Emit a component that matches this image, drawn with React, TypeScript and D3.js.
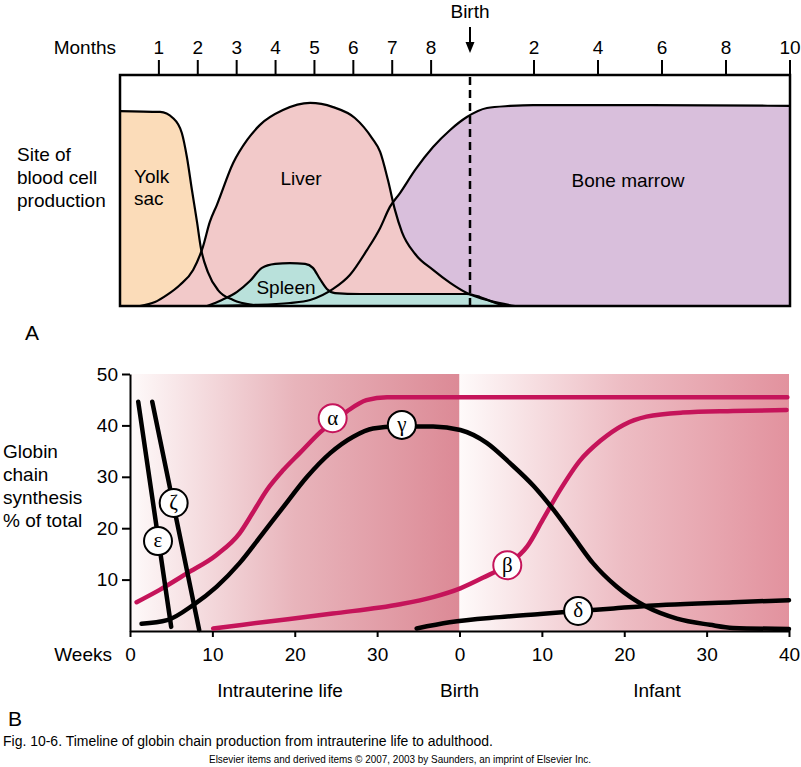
import React, { useEffect, useRef } from 'react';
import * as d3 from 'd3';

const W = 801;
const H = 767;
const FONT = '"Liberation Sans", Arial, Helvetica, sans-serif';
const SERIF = '"Liberation Serif", "DejaVu Serif", serif';
const CRIMSON = '#c5145a';

// ---- panel A: months (0-9 before birth, then 9 + months after birth) vs. relative activity (0-100)
const prenatalTicks = [1, 2, 3, 4, 5, 6, 7, 8];
const postnatalTicks = [2, 4, 6, 8, 10];

const yolkSac = [
  [0, 84.4], [1.03, 84.0], [1.36, 81.4], [1.59, 74.9], [1.72, 64.5], [1.85, 50.2], [1.98, 36.4],
  [2.08, 25.1], [2.26, 14.7], [2.52, 6.9], [2.91, 2.6], [3.42, 0.4], [3.65, 0],
];
const liver = [
  [0.51, 0], [0.9, 1.7], [1.21, 4.8], [1.54, 9.1], [1.88, 15.6], [2.13, 25.5], [2.31, 36.4],
  [2.49, 43.7], [2.91, 61.9], [3.27, 71.9], [3.6, 78.4], [4.19, 84.8], [4.89, 87.9], [5.48, 86.1],
  [6.04, 81.4], [6.48, 72.7], [6.69, 66.7], [6.89, 54.5], [7.07, 41.6], [7.25, 32.0], [7.59, 22.5],
  [8.05, 15.6], [8.49, 10.0], [8.92, 5.6], [9.63, 2.2], [10.41, 0],
];
const spleen = [
  [2.24, 0], [2.62, 2.6], [3.01, 6.1], [3.34, 10.8], [3.65, 16.5], [3.99, 18.2], [4.37, 18.6],
  [4.76, 18.2], [4.96, 16.5], [5.14, 11.7], [5.32, 7.4], [5.53, 5.6], [6.17, 5.2], [7.71, 5.2],
  [8.92, 5.2], [9.31, 3.9], [9.63, 2.2], [10.09, 0],
];
const boneMarrow = [
  [2.24, 0], [3.34, 0.4], [4.37, 1.3], [4.89, 2.6], [5.48, 7.4], [5.91, 13.4], [6.35, 24.2],
  [6.69, 33.8], [6.94, 42.9], [7.2, 48.9], [7.59, 58.9], [8.05, 68.8], [8.49, 76.2], [8.92, 81.8],
  [9.53, 85.7], [10.25, 86.6], [10.97, 87.0], [14.63, 87.0], [19, 86.6],
];

// ---- panel B: weeks (0-40 intrauterine, 40-80 infant) vs. % of total
const weekTicks = [0, 10, 20, 30, 40, 50, 60, 70, 80];
const percentTicks = [10, 20, 30, 40, 50];

const alpha = [
  [0.8, 5.6], [3.6, 8.0], [6.9, 11.2], [10.5, 14.8], [13.3, 19.0], [14.9, 23.0], [16.6, 27.4],
  [18.6, 31.3], [20.6, 34.6], [23.1, 38.7], [26.3, 42.7], [28.7, 44.9], [31.2, 45.5], [32.8, 45.5],
  [79.8, 45.5],
];
const gamma = [
  [1.4, 1.4], [4.5, 2.1], [7.7, 5.1], [10.5, 8.6], [13.3, 13.2], [15.8, 18.3], [18.6, 24.1],
  [21.5, 30.0], [24.3, 34.6], [27.1, 37.8], [29.5, 39.4], [32.4, 39.8], [36.8, 39.8], [40.1, 39.1],
  [43.3, 36.6], [46.1, 32.7], [49.0, 28.2], [51.4, 23.6], [53.8, 18.4], [56.2, 13.2], [59.1, 8.6],
  [62.7, 4.7], [66.4, 2.4], [70.4, 1.2], [73.2, 0.6], [80, 0.4],
];
const beta = [
  [10.1, 0.5], [16.6, 1.8], [24.6, 3.4], [32.8, 5.2], [36.8, 6.6], [40.1, 8.3], [42.9, 10.4],
  [45.7, 12.8], [48.2, 16.4], [50.1, 21.6], [52.2, 27.4], [54.6, 33.1], [57.1, 37.0], [59.9, 40.1],
  [62.7, 41.7], [67.1, 42.5], [73.2, 42.8], [79.7, 43.0],
];
const delta = [
  [34.8, 0.5], [38.8, 1.7], [44.9, 2.7], [49.8, 3.3], [58.7, 4.4], [65.1, 5.1], [73.2, 5.6], [80, 6.0],
];
const epsilon = [[1.0, 44.6], [5.0, 0.8]];
const zeta = [[2.7, 44.6], [8.4, 0.2]];

const chainLabels = [
  { name: 'α', week: 24.6, pct: 41.4, color: CRIMSON },
  { name: 'γ', week: 33.0, pct: 40.1, color: '#000' },
  { name: 'β', week: 45.8, pct: 12.8, color: CRIMSON },
  { name: 'δ', week: 54.4, pct: 3.9, color: '#000' },
  { name: 'ε', week: 3.4, pct: 17.5, color: '#000' },
  { name: 'ζ', week: 5.3, pct: 24.9, color: '#000' },
];

function App() {
  const svgRef = useRef<SVGSVGElement>(null);

  useEffect(() => {
    const svg = d3.select(svgRef.current);
    svg.selectAll('*').remove();

    const text = (x: number, y: number, s: string, size = 19, anchor = 'start') =>
      svg
        .append('text')
        .attr('x', x)
        .attr('y', y)
        .attr('text-anchor', anchor)
        .style('font-family', FONT)
        .style('font-size', size + 'px')
        .text(s);

    // ================= Panel A =================
    const x = d3.scaleLinear().domain([0, 9, 19]).range([120, 470, 790]);
    const y = d3.scaleLinear().domain([0, 100]).range([306, 75]);

    const area = d3
      .area<number[]>()
      .x(d => x(d[0]))
      .y0(y(0))
      .y1(d => y(d[1]))
      .curve(d3.curveMonotoneX);
    const line = d3
      .line<number[]>()
      .x(d => x(d[0]))
      .y(d => y(d[1]))
      .curve(d3.curveMonotoneX);

    const sites = [
      { data: yolkSac, fill: '#fbdcb9' },
      { data: boneMarrow, fill: '#d9bfdc' },
      { data: liver, fill: '#f2c9c9' },
      { data: spleen, fill: '#b9e1db' },
    ];
    sites.forEach(s => svg.append('path').attr('d', area(s.data)).attr('fill', s.fill));
    sites.forEach(s =>
      svg
        .append('path')
        .attr('d', line(s.data))
        .attr('fill', 'none')
        .attr('stroke', '#000')
        .attr('stroke-width', 2.2)
    );

    svg
      .append('rect')
      .attr('x', x(0))
      .attr('y', y(100))
      .attr('width', x(19) - x(0))
      .attr('height', y(0) - y(100))
      .attr('fill', 'none')
      .attr('stroke', '#000')
      .attr('stroke-width', 2.5);

    const monthTicks = [
      ...prenatalTicks.map(m => ({ pos: m, label: String(m) })),
      ...postnatalTicks.map(m => ({ pos: 9 + m, label: String(m) })),
    ];
    monthTicks.forEach(t => {
      svg
        .append('line')
        .attr('x1', x(t.pos))
        .attr('x2', x(t.pos))
        .attr('y1', 60)
        .attr('y2', 75)
        .attr('stroke', '#000')
        .attr('stroke-width', 2);
      text(x(t.pos), 54, t.label, 19, 'middle');
    });
    text(116, 54, 'Months', 19, 'end');

    // birth marker
    const bx = x(9);
    svg
      .append('line')
      .attr('x1', bx)
      .attr('x2', bx)
      .attr('y1', 77)
      .attr('y2', 306)
      .attr('stroke', '#000')
      .attr('stroke-width', 2.5)
      .attr('stroke-dasharray', '8,5');
    svg
      .append('line')
      .attr('x1', bx)
      .attr('x2', bx)
      .attr('y1', 27)
      .attr('y2', 44)
      .attr('stroke', '#000')
      .attr('stroke-width', 2);
    svg
      .append('path')
      .attr('d', `M${bx - 4.5},42L${bx + 4.5},42L${bx},53Z`)
      .attr('fill', '#000');
    text(bx, 18, 'Birth', 19, 'middle');

    text(17, 161, 'Site of');
    text(17, 184, 'blood cell');
    text(17, 207, 'production');
    text(134, 183, 'Yolk');
    text(134, 205, 'sac');
    text(301, 185, 'Liver', 19, 'middle');
    text(286, 294, 'Spleen', 19, 'middle');
    text(628, 187, 'Bone marrow', 19, 'middle');
    text(25, 340, 'A', 21);

    // ================= Panel B =================
    const xb = d3.scaleLinear().domain([0, 80]).range([130, 789]);
    const yb = d3.scaleLinear().domain([0, 50]).range([631, 374]);

    const defs = svg.append('defs');
    const grad = (id: string, mid: string, end: string) => {
      const g = defs.append('linearGradient').attr('id', id).attr('x1', 0).attr('x2', 1).attr('y1', 0).attr('y2', 0);
      g.append('stop').attr('offset', 0).attr('stop-color', '#fefafa');
      g.append('stop').attr('offset', 0.5).attr('stop-color', mid);
      g.append('stop').attr('offset', 1).attr('stop-color', end);
    };
    grad('gPre', '#e8b4bb', '#dc8a96');
    grad('gPost', '#edbcc3', '#e2929e');

    svg
      .append('rect')
      .attr('x', xb(0))
      .attr('y', yb(50))
      .attr('width', xb(40) - xb(0))
      .attr('height', yb(0) - yb(50))
      .attr('fill', 'url(#gPre)');
    svg
      .append('rect')
      .attr('x', xb(40))
      .attr('y', yb(50))
      .attr('width', xb(80) - xb(40))
      .attr('height', yb(0) - yb(50))
      .attr('fill', 'url(#gPost)');

    const yAxis = svg
      .append('g')
      .attr('transform', `translate(${xb(0)},0)`)
      .call(d3.axisLeft(yb).tickValues(percentTicks).tickSize(8).tickSizeOuter(0).tickPadding(4));
    const xAxis = svg
      .append('g')
      .attr('transform', `translate(0,${yb(0)})`)
      .call(
        d3
          .axisBottom(xb)
          .tickValues(weekTicks)
          .tickSize(6)
          .tickSizeOuter(0)
          .tickPadding(11)
          .tickFormat(d => String(+d >= 40 ? +d - 40 : +d))
      );
    [yAxis, xAxis].forEach(g => {
      g.selectAll('path, line').attr('stroke', '#000').attr('stroke-width', 2);
      g.selectAll('text').style('font-family', FONT).style('font-size', '19px').attr('fill', '#000');
    });
    text(112, 661, 'Weeks', 19, 'end');

    const lb = d3
      .line<number[]>()
      .x(d => xb(d[0]))
      .y(d => yb(d[1]))
      .curve(d3.curveMonotoneX);
    const chains = [
      { data: alpha, color: CRIMSON },
      { data: beta, color: CRIMSON },
      { data: gamma, color: '#000' },
      { data: delta, color: '#000' },
      { data: epsilon, color: '#000' },
      { data: zeta, color: '#000' },
    ];
    chains.forEach(c =>
      svg
        .append('path')
        .attr('d', lb(c.data))
        .attr('fill', 'none')
        .attr('stroke', c.color)
        .attr('stroke-width', 4.5)
        .attr('stroke-linecap', 'round')
    );

    chainLabels.forEach(l => {
      svg
        .append('circle')
        .attr('cx', xb(l.week))
        .attr('cy', yb(l.pct))
        .attr('r', 14)
        .attr('fill', '#fff')
        .attr('stroke', l.color)
        .attr('stroke-width', 2);
      svg
        .append('text')
        .attr('x', xb(l.week))
        .attr('y', yb(l.pct))
        .attr('dy', '0.3em')
        .attr('text-anchor', 'middle')
        .style('font-family', SERIF)
        .style('font-size', '21px')
        .text(l.name);
    });

    text(3, 458, 'Globin');
    text(3, 481, 'chain');
    text(3, 504, 'synthesis');
    text(3, 527, '% of total');

    text(280, 697, 'Intrauterine life', 19, 'middle');
    text(xb(40), 697, 'Birth', 19, 'middle');
    text(657, 697, 'Infant', 19, 'middle');
    text(8, 726, 'B', 21);

    text(3, 746, 'Fig. 10-6. Timeline of globin chain production from intrauterine life to adulthood.', 14)
      .attr('textLength', 490)
      .attr('lengthAdjust', 'spacingAndGlyphs');
    text(400, 763, 'Elsevier items and derived items © 2007, 2003 by Saunders, an imprint of Elsevier Inc.', 10.5, 'middle')
      .attr('textLength', 382)
      .attr('lengthAdjust', 'spacingAndGlyphs');
  }, []);

  return (
    <svg
      ref={svgRef}
      width={W}
      height={H}
      style={{ position: 'absolute', left: 0, top: 0, background: '#fff' }}
    />
  );
}

export default App;
